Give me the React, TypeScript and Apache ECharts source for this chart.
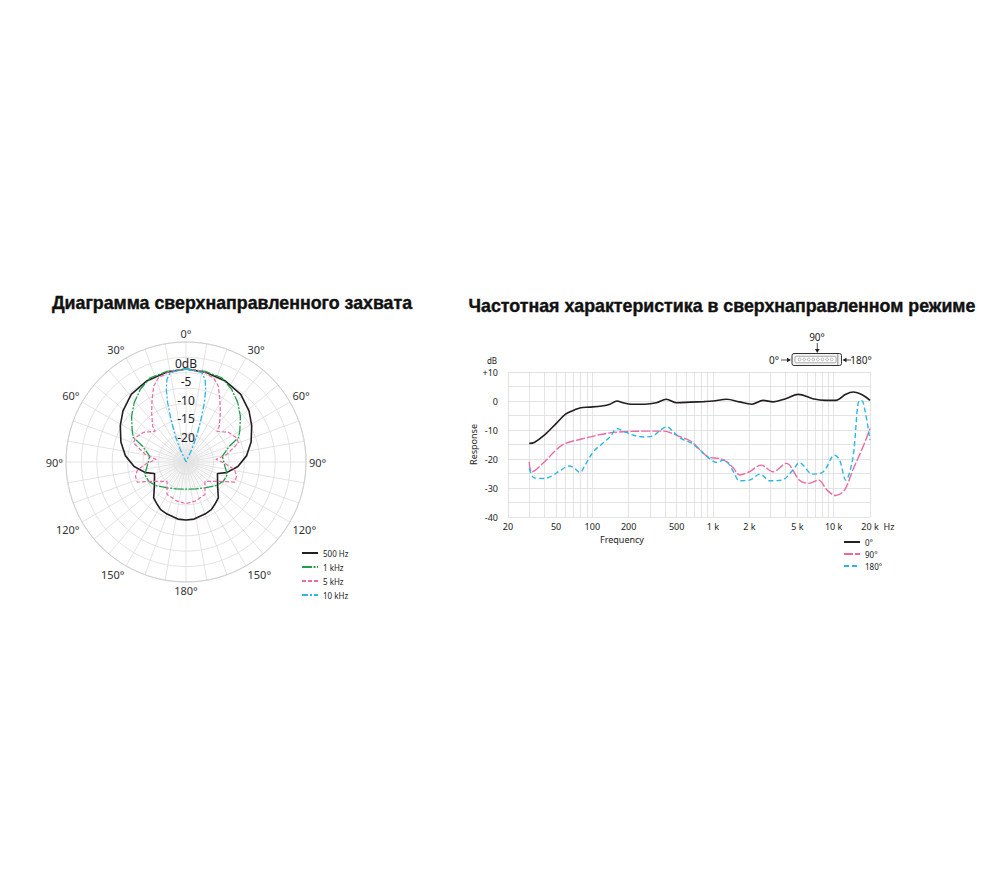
import React, { useEffect, useRef } from "react";
import * as echarts from "echarts";

const TITLE_LEFT = "Диаграмма сверхнаправленного захвата";
const TITLE_RIGHT = "Частотная характеристика в сверхнаправленном режиме";

// ---------- polar pattern (right half, mirrored to the left) ----------
const polarNames = ["500 Hz", "1 kHz", "5 kHz", "10 kHz"];
const ang500 = [0, 12, 26, 39, 51, 61, 73, 84, 95, 104.7, 110, 128, 138, 146, 152, 160, 172, 180];
const db500 = [0, -0.3, -0.8, -1.6, -3.2, -4.8, -6.7, -8.6, -11.0, -13.7, -16.0, -14.2, -12.0, -11.2, -10.5, -10.1, -9.5, -9.4];
const ang1k = [0, 12, 23, 32, 41, 50, 60, 65, 70, 81, 96, 107, 117, 127, 144, 160, 180];
const db1k = [0, -0.1, -0.4, -1.9, -3.8, -5.9, -8.3, -9.4, -12.6, -15.1, -14.5, -13.4, -13.7, -14.6, -16.4, -17.3, -17.7];
const ang5k = [0, 10, 18, 23, 28.5, 35, 43, 45, 55, 64.5, 70, 79.6, 85, 92, 99, 105.6, 112.4, 121, 135.7, 149.7, 167, 180];
const db5k = [0, -0.2, -1.2, -2.8, -5.9, -8.9, -11.9, -13.3, -11.1, -9.9, -10.0, -13.9, -16.9, -14.5, -11.8, -10.9, -10.8, -14.9, -17.7, -14.9, -14.2, -13.8];
const ang10k = [0, 10, 13, 15.2, 17.2, 19.4, 22.5, 24.5, 26];
const db10k = [0, -0.6, -2.2, -4.8, -8.3, -12.9, -17.5, -21.3, -25];
const dbRingLabels = [0, -5, -10, -15, -20];

// ---------- frequency response ----------
const respNames = ["0°", "90°", "180°"];
const f0 = [30, 33, 40, 50, 60, 70, 80, 95, 120, 140, 160, 180, 210, 270, 340, 410, 500, 650, 840, 1000, 1300, 1650, 2100, 2600, 3150, 4000, 5100, 6700, 8600, 10400, 12600, 14500, 17500, 20000];
const r0 = [-14.6, -14.3, -11.8, -7.8, -4.5, -3.2, -2.3, -2.1, -1.7, -1.1, 0, -0.6, -1.1, -1.1, -0.6, 0.6, -0.6, -0.4, -0.2, 0, 0.6, -0.3, -1.1, 0.2, -0.3, 0.8, 2.3, 0.8, 0.2, 0.2, 2.3, 3.1, 2.0, 0.2];
const f90 = [30, 31.5, 40, 50, 60, 80, 110, 140, 180, 270, 390, 440, 540, 650, 800, 940, 1130, 1300, 1480, 1660, 2000, 2500, 3150, 4050, 5200, 6200, 7500, 8800, 10400, 12300, 14400, 17500, 20000];
const r90 = [-21, -24.4, -21, -16.9, -14.6, -13.2, -11.8, -11, -10.6, -10.4, -10.4, -10.9, -12.4, -13.8, -17.3, -19.5, -19.8, -21, -23.2, -25.5, -24.4, -22.1, -24.4, -21.5, -27.3, -28.4, -27.3, -30.7, -32.6, -30.7, -23.8, -15.8, -9.5];
const f180 = [30, 33, 40, 45, 55, 64, 70, 79, 87, 102, 124, 140, 160, 180, 220, 270, 320, 365, 415, 470, 540, 650, 780, 880, 1080, 1220, 1300, 1480, 1660, 2000, 2450, 2950, 3700, 4600, 5200, 6700, 8200, 10200, 11200, 12600, 14400, 16400, 17500, 20000];
const r180 = [-23.2, -26.5, -26.7, -26.1, -23.8, -22.4, -23, -24.6, -22.1, -17.5, -14.3, -12.4, -9.5, -10.4, -11.8, -12.4, -12, -10.1, -8.9, -10.7, -12.9, -14.3, -16.9, -19, -21.2, -20.4, -20.7, -24.4, -27.5, -27.3, -25.2, -27.5, -27.3, -23.8, -21.3, -25.2, -24.4, -18.7, -20.4, -27.3, -19.8, 0.2, -0.3, -13.5];
const freqGrid = [20, 30, 40, 50, 60, 70, 80, 90, 100, 200, 300, 400, 500, 600, 700, 800, 900, 1000, 2000, 3000, 4000, 5000, 6000, 7000, 8000, 9000, 10000, 20000];
const freqTicks = [20, 50, 100, 200, 500, 1000, 2000, 5000, 10000, 20000];
const freqTickText = ["20", "50", "100", "200", "500", "1 k", "2 k", "5 k", "10 k", "20 k"];

const C_BLACK = "#231f20";
const C_GREEN = "#1f9e4c";
const C_PINK = "#ec6aa0";
const C_CYAN = "#2bb5e8";
const FONT = "Noto Sans";

function mirror(angles: number[], dbs: number[]) {
  const pts: number[][] = [];
  for (let i = 0; i < angles.length; i++) pts.push([dbs[i], angles[i]]);
  for (let i = angles.length - 1; i >= 0; i--) {
    if (angles[i] === 0 || angles[i] === 180) continue;
    pts.push([dbs[i], 360 - angles[i]]);
  }
  pts.push([dbs[0], 360]);
  return pts;
}

function logPts(fs: number[], rs: number[]) {
  return fs.map((f, i) => [Math.log10(f), rs[i]]);
}

export default function App() {
  const ref = useRef<HTMLDivElement>(null);
  useEffect(() => {
    if (!ref.current) return;
    const chart = echarts.init(ref.current, undefined, { renderer: "svg" });
    const CX = 186, CY = 462, R = 120;
    const gridLine = { color: "#dcdcdc", width: 0.8 };

    const arrowHead = (pts: number[][]) => ({ type: "polygon", shape: { points: pts }, style: { fill: "#222" } });
    const hiddenSymbol = { opacity: 0 };

    const option: any = {
      animation: false,
      backgroundColor: "#fff",
      textStyle: { fontFamily: FONT },
      polar: [
        { center: [CX, CY], radius: R },
        { center: [CX, CY], radius: R },
        { center: [CX, CY], radius: 30 },
      ],
      angleAxis: [
        {
          polarIndex: 0, type: "value", min: 0, max: 360, interval: 10, startAngle: 90, clockwise: true,
          axisLine: { show: true, lineStyle: { color: "#cfcfcf", width: 1 } },
          axisTick: { show: false },
          splitLine: { show: true, lineStyle: gridLine },
          axisLabel: {
            margin: 3, fontSize: 11, color: "#333", fontFamily: FONT,
            formatter: (v: number) => (v % 30 === 0 && v < 360 ? `${v <= 180 ? v : 360 - v}°` : ""),
          },
        },
        {
          polarIndex: 1, type: "value", min: 0, max: 360, startAngle: 90, clockwise: true,
          axisLine: { show: false }, axisTick: { show: false }, splitLine: { show: false }, axisLabel: { show: false },
        },
        {
          polarIndex: 2, type: "value", min: 0, max: 360, interval: 5, startAngle: 90, clockwise: true,
          axisLine: { show: false }, axisTick: { show: false }, axisLabel: { show: false },
          splitLine: { show: true, lineStyle: { color: "#e2e2e2", width: 0.6 } },
        },
      ],
      radiusAxis: [
        {
          polarIndex: 0, type: "value", min: 0, max: 7.79, interval: 1, inverse: true,
          axisLine: { show: false }, axisTick: { show: false }, axisLabel: { show: false },
          splitLine: { show: true, lineStyle: gridLine },
        },
        {
          polarIndex: 1, type: "value", min: -25, max: 7.26, interval: 5,
          axisLine: { show: false }, axisTick: { show: false }, splitLine: { show: false },
          axisLabel: {
            margin: 0, align: "center", verticalAlign: "bottom", fontSize: 12, color: "#222", fontFamily: FONT,
            formatter: (v: number) => (dbRingLabels.indexOf(v) >= 0 ? (v === 0 ? "0dB" : String(v)) : ""),
          },
          z: 10,
        },
        {
          polarIndex: 2, type: "value", min: 0, max: 1,
          axisLine: { show: false }, axisTick: { show: false }, axisLabel: { show: false }, splitLine: { show: false },
        },
      ],
      grid: { left: 508, top: 372, width: 362, height: 145 },
      xAxis: {
        type: "value", min: Math.log10(20), max: Math.log10(20000),
        axisLine: { show: false },
        axisTick: { show: false, customValues: freqGrid.map((f) => Math.log10(f)) },
        splitLine: { show: true, lineStyle: { color: "#dcdcdc", width: 0.8 } },
        axisLabel: {
          customValues: freqTicks.map((f) => Math.log10(f)),
          fontSize: 9, color: "#222", margin: 5, fontFamily: FONT,
          formatter: (v: number) => {
            const f = Math.round(Math.pow(10, v));
            const i = freqTicks.indexOf(f);
            return i >= 0 ? freqTickText[i] : "";
          },
        },
      },
      yAxis: {
        type: "value", min: -40, max: 10, interval: 5,
        axisLine: { show: false }, axisTick: { show: false },
        splitLine: { show: true, lineStyle: { color: "#dcdcdc", width: 0.8 } },
        axisLabel: {
          fontSize: 9, color: "#222", margin: 10, fontFamily: FONT,
          formatter: (v: number) => (v % 10 === 0 ? (v > 0 ? `+${v}` : String(v)) : ""),
        },
        name: "Response", nameLocation: "middle", nameGap: 30, nameRotate: 90,
        nameTextStyle: { fontSize: 9, color: "#222", fontFamily: FONT },
      },
      legend: [
        {
          orient: "vertical", left: 296, top: 544, itemWidth: 16, itemHeight: 8, itemGap: 6,
          itemStyle: hiddenSymbol,
          data: polarNames, textStyle: { fontSize: 8, color: "#222", fontFamily: FONT }, selectedMode: false,
        },
        {
          orient: "vertical", left: 838, top: 533, itemWidth: 16, itemHeight: 8, itemGap: 4,
          itemStyle: hiddenSymbol,
          data: respNames, textStyle: { fontSize: 8, color: "#222", fontFamily: FONT }, selectedMode: false,
        },
      ],
      series: [
        { name: "500 Hz", type: "line", coordinateSystem: "polar", polarIndex: 1, symbol: "none", data: mirror(ang500, db500), lineStyle: { color: C_BLACK, width: 1.6 }, itemStyle: { color: C_BLACK } },
        { name: "1 kHz", type: "line", coordinateSystem: "polar", polarIndex: 1, symbol: "none", data: mirror(ang1k, db1k), lineStyle: { color: C_GREEN, width: 1.3, type: [10, 1.5, 2, 1.5] }, itemStyle: { color: C_GREEN } },
        { name: "5 kHz", type: "line", coordinateSystem: "polar", polarIndex: 1, symbol: "none", data: mirror(ang5k, db5k), lineStyle: { color: C_PINK, width: 1.2, type: [4, 2] }, itemStyle: { color: C_PINK } },
        { name: "10 kHz", type: "line", coordinateSystem: "polar", polarIndex: 1, symbol: "none", data: mirror(ang10k, db10k), lineStyle: { color: C_CYAN, width: 1.3, type: [6, 2, 2, 2] }, itemStyle: { color: C_CYAN } },
        { name: "0°", type: "line", symbol: "none", smooth: 0.35, data: logPts(f0, r0), lineStyle: { color: C_BLACK, width: 1.6 }, itemStyle: { color: C_BLACK } },
        { name: "90°", type: "line", symbol: "none", smooth: 0.35, data: logPts(f90, r90), lineStyle: { color: C_PINK, width: 1.4, type: [9, 2] }, itemStyle: { color: C_PINK } },
        { name: "180°", type: "line", symbol: "none", smooth: 0.35, data: logPts(f180, r180), lineStyle: { color: C_CYAN, width: 1.4, type: [5, 3] }, itemStyle: { color: C_CYAN } },
      ],
      graphic: [
        { type: "text", x: 232, y: 303, style: { text: TITLE_LEFT, font: "bold 17.8px 'Liberation Sans'", fill: "#111", align: "center", verticalAlign: "middle", stroke: "#111", lineWidth: 0.4 } },
        { type: "text", x: 722, y: 306, style: { text: TITLE_RIGHT, font: "bold 17.8px 'Liberation Sans'", fill: "#111", align: "center", verticalAlign: "middle", stroke: "#111", lineWidth: 0.4 } },
        { type: "text", x: 492, y: 360, style: { text: "dB", font: `8px '${FONT}'`, fill: "#222", align: "center", verticalAlign: "middle" } },
        { type: "text", x: 622, y: 539, style: { text: "Frequency", font: `9px '${FONT}'`, fill: "#222", align: "center", verticalAlign: "middle" } },
        { type: "text", x: 889, y: 526, style: { text: "Hz", font: `9px '${FONT}'`, fill: "#222", align: "center", verticalAlign: "middle" } },
        // mic icon
        { type: "text", x: 817, y: 337, style: { text: "90°", font: `10px '${FONT}'`, fill: "#222", align: "center", verticalAlign: "middle" } },
        { type: "line", shape: { x1: 817.3, y1: 343, x2: 817.3, y2: 350 }, style: { stroke: "#222", lineWidth: 0.8 } },
        arrowHead([[815, 349], [819.6, 349], [817.3, 353]]),
        { type: "text", x: 774, y: 360, style: { text: "0°", font: `10px '${FONT}'`, fill: "#222", align: "center", verticalAlign: "middle" } },
        { type: "line", shape: { x1: 781, y1: 360, x2: 788, y2: 360 }, style: { stroke: "#222", lineWidth: 0.8 } },
        arrowHead([[787, 357.8], [787, 362.2], [791, 360]]),
        { type: "text", x: 861, y: 360, style: { text: "180°", font: `10px '${FONT}'`, fill: "#222", align: "center", verticalAlign: "middle" } },
        { type: "line", shape: { x1: 846, y1: 360, x2: 851, y2: 360 }, style: { stroke: "#222", lineWidth: 0.8 } },
        arrowHead([[846.5, 357.8], [846.5, 362.2], [842.5, 360]]),
        { type: "rect", shape: { x: 792, y: 353.5, width: 49.5, height: 12, r: 2 }, style: { fill: "#f4f4f4", stroke: "#333", lineWidth: 1 } },
        { type: "rect", shape: { x: 795, y: 356.3, width: 41, height: 6.5, r: 1.5 }, style: { fill: "#fff", stroke: "#888", lineWidth: 0.7 } },
        { type: "line", shape: { x1: 837.8, y1: 354, x2: 837.8, y2: 365 }, style: { stroke: "#666", lineWidth: 0.7 } },
        ...[0, 1, 2, 3, 4, 5, 6, 7].map((k) => ({
          type: "circle", shape: { cx: 799.5 + k * 4.6, cy: 359.5, r: 1.4 }, style: { fill: "none", stroke: "#888", lineWidth: 0.6 },
        })),
      ],
    };
    chart.setOption(option);
    return () => chart.dispose();
  }, []);
  return <div ref={ref} style={{ position: "absolute", left: 0, top: 0, width: 1000, height: 875, background: "#fff" }} />;
}
